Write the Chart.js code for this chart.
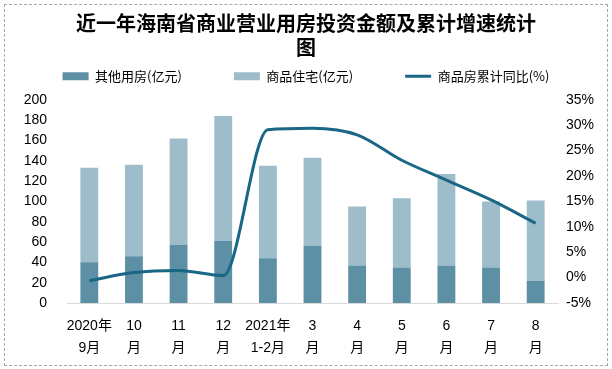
<!DOCTYPE html>
<html lang="zh">
<head>
<meta charset="UTF-8">
<title>近一年海南省商业营业用房投资金额及累计增速统计图</title>
<script src="https://cdn.jsdelivr.net/npm/chart.js@4.4.1/dist/chart.umd.min.js"></script>
<style>
    body { margin: 0; padding: 0; background: #fff; }
    .wrap { position: relative; width: 612px; height: 369px; }
    .frame { position: absolute; left: 4px; top: 4px; width: 602px; height: 360px; border: 1px dashed #a6a6a6; }
    canvas { position: absolute; left: 0; top: 0; }
</style>
</head>
<body>
<div class="wrap">
    <div class="frame"></div>
    <canvas id="chart" width="612" height="369"></canvas>
</div>
<script>
// 数据
const months = [
    ['2020年', '9月'], ['10', '月'], ['11', '月'], ['12', '月'], ['2021年', '1-2月'],
    ['3', '月'], ['4', '月'], ['5', '月'], ['6', '月'], ['7', '月'], ['8', '月']
];
const otherUse = [40, 46, 57, 61, 44, 56, 37, 35, 37, 35, 22];     // 其他用房(亿元)
const housing = [93, 90, 105, 123, 91, 87, 58, 68, 90, 65, 79];    // 商品住宅(亿元)
const growth = [-0.6, 1.0, 1.4, 0.4, 29.1, 29.4, 28.1, 23.1, 19.2, 15.3, 10.7]; // 商品房累计同比(%)

const leftTicks = [0, 20, 40, 60, 80, 100, 120, 140, 160, 180, 200];
const rightTicks = [-5, 0, 5, 10, 15, 20, 25, 30, 35];

const fontFamily = "'Liberation Sans', 'Noto Sans CJK SC', sans-serif";

// legend needs a bit more room below it than its padding gives
const legendSpace = {
    id: 'legendSpace',
    afterInit(chart) {
        const lg = chart.legend;
        const fit = lg.fit;
        lg.fit = function () {
            fit.call(this);
            this.height += 7;
        };
    }
};

new Chart(document.getElementById('chart'), {
    type: 'bar',
    data: {
        labels: months,
        datasets: [
            {
                label: '其他用房(亿元)',
                data: otherUse,
                backgroundColor: '#5d8fa5',
                stack: 's',
                yAxisID: 'y',
                order: 1,
                pointStyle: 'rect',
                barPercentage: 0.4,
                categoryPercentage: 1
            },
            {
                label: '商品住宅(亿元)',
                data: housing,
                backgroundColor: '#9dbdca',
                stack: 's',
                yAxisID: 'y',
                order: 1,
                pointStyle: 'rect',
                barPercentage: 0.4,
                categoryPercentage: 1
            },
            {
                type: 'line',
                label: '商品房累计同比(%)',
                data: growth,
                borderColor: '#1a6685',
                backgroundColor: '#1a6685',
                borderWidth: 3,
                pointRadius: 0,
                cubicInterpolationMode: 'monotone',
                yAxisID: 'y1',
                order: 0,
                pointStyle: 'line'
            }
        ]
    },
    options: {
        responsive: false,
        animation: false,
        layout: { padding: { left: 0, right: 0, top: 8, bottom: 0 } },
        plugins: {
            title: {
                display: true,
                text: ['近一年海南省商业营业用房投资金额及累计增速统计', '图'],
                color: '#000',
                font: { family: "'Noto Sans CJK SC', sans-serif", size: 20, weight: 'bold', lineHeight: 1.22 },
                // legend padding is large (horizontal spacing), pull it up
                padding: { top: 3, bottom: -42 }
            },
            legend: {
                labels: {
                    sort: (a, b) => a.datasetIndex - b.datasetIndex,
                    usePointStyle: true,
                    pointStyleWidth: 26,
                    boxHeight: 8,
                    padding: 52,
                    color: '#000',
                    font: { family: "'Noto Sans CJK SC', sans-serif", size: 13 }
                }
            },
            tooltip: { enabled: false }
        },
        scales: {
            x: {
                grid: { display: false, drawTicks: false },
                border: { color: '#d9d9d9', width: 1 },
                ticks: {
                    color: '#000',
                    padding: 12,
                    maxRotation: 0,
                    autoSkip: false,
                    font: { family: fontFamily, size: 14, lineHeight: 1.6 }
                },
                afterFit: s => { s.height = 66; }
            },
            y: {
                position: 'left',
                min: 0,
                max: 200,
                grid: { display: false, drawTicks: false },
                border: { display: false },
                afterBuildTicks: s => { s.ticks = leftTicks.map(v => ({ value: v })); },
                ticks: {
                    color: '#000',
                    padding: 20,
                    font: { family: fontFamily, size: 14 }
                },
                afterFit: s => { s.width = 67; }
            },
            y1: {
                position: 'right',
                min: -5,
                max: 35,
                grid: { display: false, drawTicks: false },
                border: { display: false },
                afterBuildTicks: s => { s.ticks = rightTicks.map(v => ({ value: v })); },
                ticks: {
                    color: '#000',
                    padding: 8,
                    callback: v => v + '%',
                    font: { family: fontFamily, size: 14 }
                },
                afterFit: s => { s.width = 54; }
            }
        }
    },
    plugins: [legendSpace]
});
</script>
</body>
</html>
